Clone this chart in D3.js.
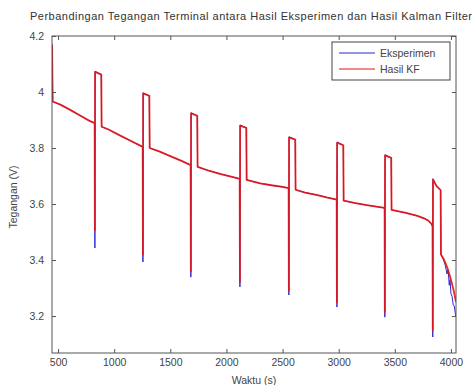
<!DOCTYPE html>
<html>
<head>
<meta charset="utf-8">
<script src="https://cdn.jsdelivr.net/npm/d3@7"></script>
<style>
  body { margin: 0; background: #fff; }
  svg { display: block; }
  text { font-family: "Liberation Sans", Arial, sans-serif; }
</style>
</head>
<body>
<svg id="chart" width="475" height="385"></svg>
<script>
// ---- Data ----
const titleText = "Perbandingan Tegangan Terminal antara Hasil Eksperimen dan Hasil Kalman Filter";
const xLabel = "Waktu (s)";
const yLabel = "Tegangan (V)";
const seriesNames = ["Eksperimen", "Hasil KF"];
const xTicks = [500, 1000, 1500, 2000, 2500, 3000, 3500, 4000];
const yTicks = [3.2, 3.4, 3.6, 3.8, 4.0, 4.2];

// Experiment (blue)
const tExp = [447, 452, 520, 600, 700, 780, 826,
  828, 830, 885, 888, 950, 1050, 1150, 1254,
  1256, 1258, 1313, 1316, 1400, 1500, 1600, 1681,
  1683, 1685, 1740, 1743, 1850, 1950, 2050, 2118,
  2120, 2122, 2177, 2180, 2300, 2400, 2500, 2554,
  2556, 2558, 2613, 2616, 2700, 2800, 2900, 2982,
  2984, 2986, 3041, 3044, 3150, 3250, 3350, 3409,
  3411, 3413, 3468, 3471, 3600, 3700, 3760, 3800, 3825, 3836,
  3838, 3840, 3870, 3908, 3911, 3930, 3950, 3965, 3975, 3985, 3992, 4000, 4010, 4020, 4030, 4042];
const vExp = [4.17, 3.966, 3.955, 3.938, 3.915, 3.897, 3.889,
  3.443, 4.074, 4.062, 3.876, 3.866, 3.845, 3.825, 3.804,
  3.393, 3.997, 3.986, 3.800, 3.788, 3.771, 3.754, 3.739,
  3.339, 3.926, 3.915, 3.733, 3.718, 3.707, 3.697, 3.690,
  3.304, 3.882, 3.872, 3.686, 3.674, 3.667, 3.661, 3.657,
  3.275, 3.840, 3.830, 3.651, 3.641, 3.633, 3.623, 3.616,
  3.232, 3.821, 3.810, 3.612, 3.603, 3.596, 3.590, 3.586,
  3.196, 3.776, 3.765, 3.579, 3.568, 3.558, 3.549, 3.540, 3.530, 3.520,
  3.125, 3.690, 3.665, 3.650, 3.420, 3.405, 3.380, 3.350, 3.365, 3.310, 3.330, 3.280, 3.270, 3.240, 3.235, 3.200];

// Kalman filter estimate (red)
const tKF = [447, 452, 520, 600, 700, 780, 826,
  828, 830, 885, 888, 950, 1050, 1150, 1254,
  1256, 1258, 1313, 1316, 1400, 1500, 1600, 1681,
  1683, 1685, 1740, 1743, 1850, 1950, 2050, 2118,
  2120, 2122, 2177, 2180, 2300, 2400, 2500, 2554,
  2556, 2558, 2613, 2616, 2700, 2800, 2900, 2982,
  2984, 2986, 3041, 3044, 3150, 3250, 3350, 3409,
  3411, 3413, 3468, 3471, 3600, 3700, 3760, 3800, 3825, 3836,
  3838, 3840, 3870, 3908, 3911, 3940, 3970, 4000, 4025, 4045];
const vKF = [4.17, 3.966, 3.955, 3.938, 3.915, 3.897, 3.889,
  3.507, 4.072, 4.062, 3.876, 3.866, 3.845, 3.825, 3.804,
  3.420, 3.995, 3.986, 3.800, 3.788, 3.771, 3.754, 3.739,
  3.360, 3.924, 3.915, 3.733, 3.718, 3.707, 3.697, 3.690,
  3.322, 3.880, 3.872, 3.686, 3.674, 3.667, 3.661, 3.657,
  3.292, 3.838, 3.830, 3.651, 3.641, 3.633, 3.623, 3.616,
  3.250, 3.819, 3.810, 3.612, 3.603, 3.596, 3.590, 3.586,
  3.215, 3.774, 3.765, 3.579, 3.568, 3.558, 3.549, 3.540, 3.530, 3.520,
  3.150, 3.688, 3.665, 3.650, 3.420, 3.400, 3.370, 3.330, 3.290, 3.250];

const colors = ["#2a2ad0", "#e41414"];

// ---- Drawing ----
const svg = d3.select("#chart");
const pLeft = 52, pRight = 456, pTop = 36, pBottom = 353;
const x = d3.scaleLinear().domain([446, 4045]).range([pLeft, pRight]);
const y = d3.scaleLinear().domain([3.068, 4.2]).range([pBottom, pTop]);

svg.append("rect").attr("width", 475).attr("height", 385).attr("fill", "#fff");

// title
svg.append("text").attr("x", 30).attr("y", 20)
  .attr("font-size", "11px").attr("fill", "#333")
  .attr("textLength", 442).attr("lengthAdjust", "spacing").text(titleText);

// clip
svg.append("clipPath").attr("id", "clip").append("rect")
  .attr("x", pLeft).attr("y", pTop).attr("width", pRight - pLeft).attr("height", pBottom - pTop);

const line = d3.line().x(d => x(d[0])).y(d => y(d[1]));
const expData = tExp.map((t, i) => [t, vExp[i]]);
const kfData = tKF.map((t, i) => [t, vKF[i]]);

const g = svg.append("g").attr("clip-path", "url(#clip)");
g.append("path").datum(expData).attr("d", line).attr("fill", "none")
  .attr("stroke", colors[0]).attr("stroke-width", 1);
g.append("path").datum(kfData).attr("d", line).attr("fill", "none")
  .attr("stroke", colors[1]).attr("stroke-width", 1.8).attr("stroke-opacity", 0.9)
  .attr("stroke-linejoin", "round");

// axes
const axisColor = "#555";
const fmtY = d => String(+d.toFixed(1));
const styleAxis = sel => {
  sel.selectAll(".domain").remove();
  sel.selectAll("line").attr("stroke", axisColor);
  sel.selectAll("text").attr("fill", "#444").attr("font-size", "10.5px")
    .attr("font-family", "Liberation Sans, Arial, sans-serif");
};
svg.append("g").attr("transform", `translate(0,${pBottom})`)
  .call(d3.axisBottom(x).tickValues(xTicks).tickSize(-4).tickPadding(6).tickFormat(d3.format("d")))
  .call(styleAxis);
svg.append("g").attr("transform", `translate(0,${pTop})`)
  .call(d3.axisTop(x).tickValues(xTicks).tickSize(-4).tickFormat(""))
  .call(styleAxis);
svg.append("g").attr("transform", `translate(${pLeft},0)`)
  .call(d3.axisLeft(y).tickValues(yTicks).tickSize(-4).tickPadding(8).tickFormat(fmtY))
  .call(styleAxis);
svg.append("g").attr("transform", `translate(${pRight},0)`)
  .call(d3.axisRight(y).tickValues(yTicks).tickSize(-4).tickFormat(""))
  .call(styleAxis);

// box
svg.append("rect").attr("x", pLeft).attr("y", pTop).attr("width", pRight - pLeft).attr("height", pBottom - pTop)
  .attr("fill", "none").attr("stroke", axisColor).attr("stroke-width", 1);

// axis labels
svg.append("text").attr("x", 254).attr("y", 384).attr("text-anchor", "middle")
  .attr("font-size", "10.5px").attr("fill", "#444").text(xLabel);
svg.append("text").attr("transform", "translate(17,197) rotate(-90)").attr("text-anchor", "middle")
  .attr("font-size", "10.5px").attr("fill", "#444").text(yLabel);

// legend
const lg = svg.append("g");
lg.append("rect").attr("x", 332).attr("y", 42).attr("width", 118).attr("height", 38)
  .attr("fill", "#fff").attr("stroke", "#444").attr("stroke-width", 1);
seriesNames.forEach((name, i) => {
  const yy = 53 + i * 16;
  lg.append("line").attr("x1", 339).attr("x2", 375).attr("y1", yy).attr("y2", yy)
    .attr("stroke", colors[i]).attr("stroke-width", 1);
  lg.append("text").attr("x", 380).attr("y", yy + 3.5).attr("font-size", "10.5px")
    .attr("fill", "#444").text(name);
});
</script>
</body>
</html>
